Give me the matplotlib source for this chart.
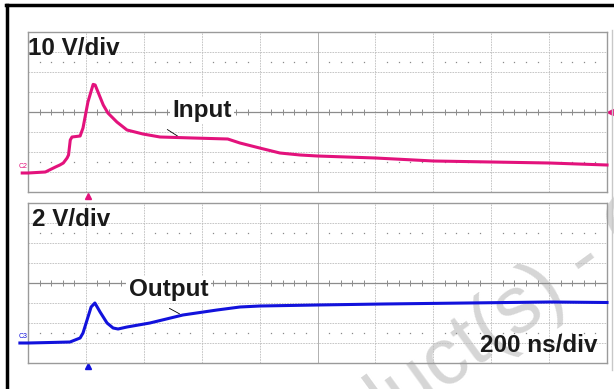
import numpy as np
import matplotlib.pyplot as plt
from matplotlib.lines import Line2D

plt.rcParams['font.family'] = ['Liberation Sans', 'DejaVu Sans']

# input trace (ns, V)
t_in = [-20, 0, 60, 95, 110, 122, 135, 140, 146, 152, 180, 190, 207, 225, 232,
        260, 276, 307, 342, 397, 456, 570, 690, 732, 800, 870, 940, 1000,
        1200, 1400, 1600, 1800, 2000]
v_in = [0, 0, 0.5, 3, 4, 5, 7.5, 9, 16.5, 18, 18.5, 22.5, 35.5, 44.3, 44,
        34, 30, 25.5, 21.5, 19.5, 18, 17.5, 17, 15, 12.5, 10, 9, 8.5,
        7.5, 6, 5.5, 5, 4]

# output trace (ns, V)
t_out = [-28, 0, 76, 145, 180, 190, 204, 218, 231, 249, 273, 294, 311, 342,
         421, 535, 653, 732, 801, 998, 1226, 1516, 1803, 2000]
v_out = [0, 0, 0.05, 0.1, 0.5, 1.0, 2.3, 3.6, 4.0, 3.1, 2.0, 1.5, 1.4, 1.6,
         2.0, 2.8, 3.3, 3.6, 3.7, 3.8, 3.9, 4.0, 4.1, 4.05]

ns_div = 200
in_vdiv, out_vdiv = 10, 2
in_gnd, out_gnd = -3.05, -3.0   # ground offset in divisions from centre
trig_ns = 207

pink = '#e3127c'
blue = '#1212dc'
W, H = 614, 389

fig = plt.figure(figsize=(6.14, 3.89), dpi=100)
ax1 = fig.add_axes([28 / W, 1 - 192 / H, 579 / W, 160 / H])
ax2 = fig.add_axes([28 / W, 1 - 363 / H, 579 / W, 160 / H])


def scope(ax):
    ax.set_facecolor('none')
    ax.set_xlim(0, 10 * ns_div)
    ax.set_ylim(-4, 4)
    ax.set_xticks([])
    ax.set_yticks([])
    for s in ax.spines.values():
        s.set_color('#9a9a9a')
        s.set_linewidth(1)
    for k in range(1, 10):
        if k == 5:
            ax.axvline(k * ns_div, color='#b0b0b0', lw=0.7)
        else:
            ax.axvline(k * ns_div, color='#bdbdbd', lw=0.6, ls=(0, (2, 1.2)))
    for k in range(-3, 4):
        if k == 0:
            ax.axhline(0, color='#8c8c8c', lw=0.9)
        else:
            ax.axhline(k, color='#bdbdbd', lw=0.6, ls=(0, (2, 1.2)))
    minor = np.arange(0, 10 * ns_div, ns_div / 5)
    minor = minor[minor % ns_div != 0]
    ax.plot(minor, np.zeros_like(minor), ls='none', marker='|', ms=4,
            mew=0.7, color='#8c8c8c')
    for yy in (2.5, -2.5):
        ax.plot(minor, np.full_like(minor, yy), ls='none', marker='s',
                ms=0.9, mew=0, color='#8a8a8a')


scope(ax1)
scope(ax2)

y_in = np.array(v_in) / in_vdiv + in_gnd
y_out = np.array(v_out) / out_vdiv + out_gnd
ax1.plot(t_in, y_in, color=pink, lw=2.2, clip_on=False, zorder=5)
ax2.plot(t_out, y_out, color=blue, lw=2.2, clip_on=False, zorder=5)

# trigger / ground markers
ax1.plot([trig_ns], [-4.2], marker='^', color=pink, ms=5, clip_on=False)
ax2.plot([trig_ns], [-4.15], marker='^', color=blue, ms=5, clip_on=False)
ax1.plot([2010], [0], marker='<', color=pink, ms=5, clip_on=False)
ax1.text(-31, in_gnd + 0.15, 'C2', fontsize=5, color=pink, va='bottom')
ax2.text(-31, out_gnd + 0.15, 'C3', fontsize=5, color=blue, va='bottom')

bold = dict(fontweight='bold', fontsize=17.5, color='#1a1a1a')
ax1.text(0.0, 0.97, '10 V/div', transform=ax1.transAxes, va='top', **bold)
ax2.text(0.007, 0.97, '2 V/div', transform=ax2.transAxes, va='top', **bold)
ax2.text(0.983, 0.069, '200 ns/div', transform=ax2.transAxes, ha='right',
         va='baseline', **bold)

box = dict(boxstyle='square,pad=0.1', fc='white', ec='none')
ax1.text(0.249, 0.469, 'Input', transform=ax1.transAxes, va='baseline',
         bbox=box, zorder=6, **bold)
ax2.text(0.174, 0.419, 'Output', transform=ax2.transAxes, va='baseline',
         bbox=box, zorder=6, **bold)

# leader lines to the traces
t_a = 525
ax1.annotate('', xy=(t_a, np.interp(t_a, t_in, y_in)), xytext=(473, -0.8),
             arrowprops=dict(arrowstyle='-', color='k', lw=0.6))
t_b = 532
ax2.annotate('', xy=(t_b, np.interp(t_b, t_out, y_out)), xytext=(480, -1.2),
             arrowprops=dict(arrowstyle='-', color='k', lw=0.6))

# page frame
fig.add_artist(Line2D([6 / W, 1], [1 - 5 / H] * 2, color='k', lw=2.5,
                      transform=fig.transFigure))
fig.add_artist(Line2D([7 / W] * 2, [0, 1 - 5 / H], color='k', lw=2.5,
                      transform=fig.transFigure))
fig.add_artist(Line2D([612 / W] * 2, [1 - 370 / H, 1 - 30 / H],
                      color='#c8c8c8', lw=1, transform=fig.transFigure))

# watermark
fig.text(586 / W, 1 - 262 / H, 'Obsolete Product(s) - Obsolete Product(s)',
         rotation=36, rotation_mode='anchor', ha='center', va='center',
         fontsize=58, color='#d6d6d6', zorder=-1)

fig.savefig('out.png', dpi=100)
